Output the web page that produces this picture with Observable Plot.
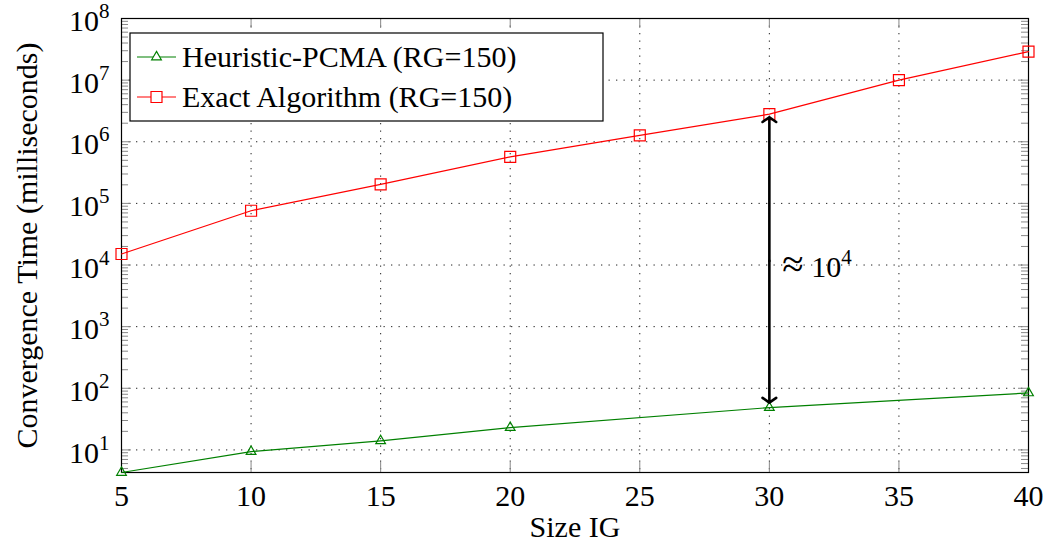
<!DOCTYPE html>
<html><head><meta charset="utf-8">
<script src="https://cdn.jsdelivr.net/npm/d3@7"></script>
<script src="https://cdn.jsdelivr.net/npm/@observablehq/plot@0.6"></script>
<style>body{margin:0;background:#fff;} #chart svg{display:block}</style>
</head><body><div id="chart"></div>
<script>
// ---- data ----
const sizes = [5, 10, 15, 20, 25, 30, 35, 40];
const exactTimes = [1.51e4, 7.6e4, 2.03e5, 5.7e5, 1.27e6, 2.8e6, 1.0e7, 2.9e7];
const heuristicSizes = [5, 10, 15, 20, 30, 40];
const heuristicTimes = [4.3, 9.4, 14, 23, 48.6, 84];
const xTicks = [5, 10, 15, 20, 25, 30, 35, 40];
const yTickExponents = [1, 2, 3, 4, 5, 6, 7, 8];
const legendLabels = ["Heuristic-PCMA (RG=150)", "Exact Algorithm (RG=150)"];
const annotationLabel = "≈ 10^4";
const xLabel = "Size IG";
const yLabel = "Convergence Time (milliseconds)";
const arrowSize = 30;

// ---- layout ----
const FONT = "'Liberation Serif', 'Times New Roman', serif";
const FS = 30;
const GREEN = "#008000", RED = "#ff0000";
const W = 1050, H = 552, ML = 121, MR = 22, MT = 18, MB = 80;
const innerW = W - ML - MR, innerH = H - MT - MB;
const yMin = 4.3, yMax = 1e8;

const exact = sizes.map((s, i) => ({size: s, time: exactTimes[i]}));
const heur = heuristicSizes.map((s, i) => ({size: s, time: heuristicTimes[i]}));
const yMajor = yTickExponents.map(e => 10 ** e);
const yMinor = [];
for (let e = 0; e < 8; e++) for (let m = 2; m <= 9; m++) { const v = m * 10 ** e; if (v >= yMin && v <= yMax) yMinor.push(v); }

const topVal = exactTimes[sizes.indexOf(arrowSize)];
const botVal = heuristicTimes[heuristicSizes.indexOf(arrowSize)];
const midVal = Math.sqrt(topVal * botVal);

const gridStyle = {stroke: "#222", strokeWidth: 1, strokeOpacity: 1, strokeDasharray: "1.3,6.2"};
const tickStyle = {stroke: "#888", strokeWidth: 1};
const arrowStyle = {stroke: "black", strokeWidth: 2.6, headAngle: 110, headLength: 4.8};

const chart = Plot.plot({
  width: W, height: H,
  marginLeft: ML, marginRight: MR, marginTop: MT, marginBottom: MB,
  style: {fontFamily: FONT, fontSize: FS + "px", background: "white", color: "black"},
  x: {domain: [5, 40]},
  y: {type: "log", domain: [yMin, yMax]},
  marks: [
    Plot.gridX(xTicks, gridStyle),
    Plot.gridY(yMajor, gridStyle),
    Plot.ruleY(yMinor, {...tickStyle, insetRight: innerW - 7}),
    Plot.ruleY(yMinor, {...tickStyle, insetLeft: innerW - 7}),
    Plot.ruleY(yMajor, {...tickStyle, insetRight: innerW - 10}),
    Plot.ruleY(yMajor, {...tickStyle, insetLeft: innerW - 10}),
    Plot.ruleX(xTicks, {...tickStyle, insetBottom: innerH - 10}),
    Plot.ruleX(xTicks, {...tickStyle, insetTop: innerH - 10}),
    Plot.frame({stroke: "black", strokeWidth: 1.2}),
    Plot.axisX(xTicks, {tickSize: 0, tickPadding: 12, fontSize: FS, label: null, tickFormat: d => String(d)}),
    Plot.axisY(yMajor, {tickSize: 0, tickPadding: 12, dy: 3, fontSize: FS, label: null,
      tickFormat: d => `10^${Math.round(Math.log10(d))}`}),
    Plot.line(heur, {x: "size", y: "time", stroke: GREEN, strokeWidth: 1.2}),
    Plot.line(exact, {x: "size", y: "time", stroke: RED, strokeWidth: 1.2}),
    Plot.dot(heur, {x: "size", y: "time", symbol: "triangle", r: 3.6, stroke: GREEN, strokeWidth: 1.2, fill: "none"}),
    Plot.dot(exact, {x: "size", y: "time", symbol: "square", r: 6.2, stroke: RED, strokeWidth: 1.2, fill: "none"}),
    Plot.arrow([{x: arrowSize, y1: midVal, y2: topVal}], {x1: "x", x2: "x", y1: "y1", y2: "y2", insetEnd: 3, ...arrowStyle}),
    Plot.arrow([{x: arrowSize, y1: midVal, y2: botVal}], {x1: "x", x2: "x", y1: "y1", y2: "y2", insetEnd: 5, ...arrowStyle}),
    Plot.text([annotationLabel], {x: () => arrowSize, y: () => 1e4, text: d => d, dx: 13, dy: 2, textAnchor: "start", fontSize: FS}),
    Plot.text([xLabel], {frameAnchor: "bottom", dy: 64, text: d => d, textAnchor: "middle", fontSize: FS}),
    Plot.text([yLabel], {frameAnchor: "left", dx: -94, rotate: -90, text: d => d, textAnchor: "middle", fontSize: FS})
  ]
});

// superscripts (and a larger ≈ sign)
d3.select(chart).selectAll("text").each(function() {
  const t = this.textContent;
  const m = t.match(/^(.*)\^(\d+)$/);
  if (!m) return;
  const sel = d3.select(this);
  sel.text(null);
  let base = m[1];
  if (base.startsWith("≈")) {
    sel.append("tspan").attr("font-size", "1.3em").text("≈");
    base = base.slice(1);
  }
  sel.append("tspan").text(base);
  sel.append("tspan").attr("dy", "-0.62em").attr("font-size", "0.7em").text(m[2]);
});

// legend
const lg = d3.select(chart).append("g").attr("font-family", FONT).attr("font-size", FS).attr("text-anchor", "start");
lg.append("rect").attr("x", 130).attr("y", 33).attr("width", 473).attr("height", 88)
  .attr("fill", "white").attr("stroke", "black").attr("stroke-width", 1.2);
const legendStyles = [
  {color: GREEN, symbol: d3.symbolTriangle, r: 3.6},
  {color: RED, symbol: d3.symbolSquare, r: 6.2}
];
legendLabels.forEach((label, i) => {
  const cy = 57 + i * 40;
  const st = legendStyles[i];
  lg.append("line").attr("x1", 137).attr("x2", 176).attr("y1", cy).attr("y2", cy)
    .attr("stroke", st.color).attr("stroke-width", 1.2);
  lg.append("path").attr("transform", `translate(156.5,${cy})`)
    .attr("d", d3.symbol(st.symbol, st.r * st.r * Math.PI)())
    .attr("fill", "white").attr("stroke", st.color).attr("stroke-width", 1.2);
  lg.append("text").attr("x", 182).attr("y", cy + 10).attr("fill", "black").text(label);
});

document.getElementById("chart").appendChild(chart);
</script>
</body></html>
